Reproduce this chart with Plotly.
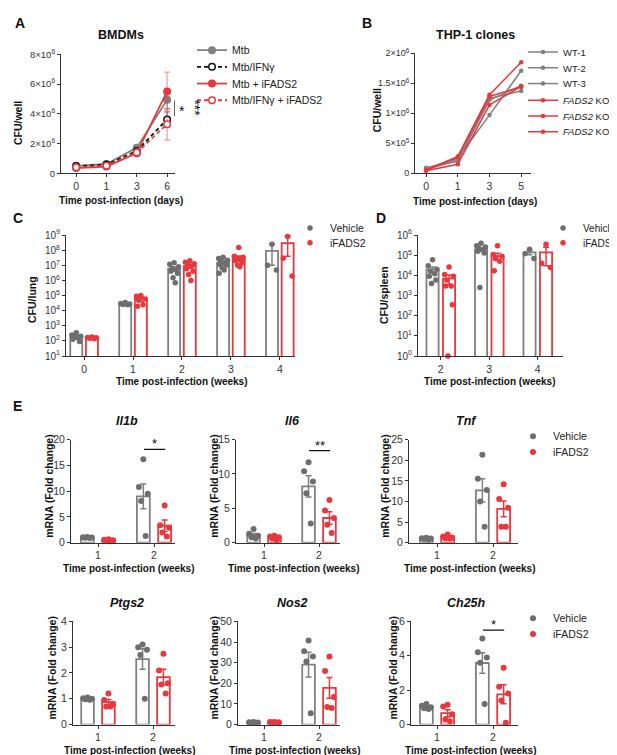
import numpy as np
import plotly.graph_objects as go

W, H = 617, 755
GREY = "#808080"
DGREY = "#6e6e6e"
RED = "#e8383d"
FONT = "Liberation Sans, Arial, sans-serif"

# ---- Panel A: BMDMs (CFU/well) ----
a_days = ["0", "1", "3", "6"]
a_mtb = [0.50e6, 0.62e6, 1.72e6, 4.95e6]
a_mtb_err = [0.05e6, 0.05e6, 0.15e6, 0.6e6]
a_ifn = [0.48e6, 0.58e6, 1.50e6, 3.62e6]
a_ifn_err = [0.05e6, 0.05e6, 0.10e6, 0.5e6]
a_mtb_i = [0.35e6, 0.45e6, 1.35e6, 5.50e6]
a_mtb_i_err = [0.05e6, 0.05e6, 0.10e6, 1.3e6]
a_ifn_i = [0.40e6, 0.50e6, 1.40e6, 3.30e6]
a_ifn_i_err = [0.05e6, 0.05e6, 0.10e6, 1.05e6]

# ---- Panel B: THP-1 clones ----
b_days = ["0", "1", "3", "5"]
b_clones = ["WT-1", "WT-2", "WT-3", "<i>FADS2</i> KO-1", "<i>FADS2</i> KO-2", "<i>FADS2</i> KO-3"]
b_values = [
    [0.08e6, 0.25e6, 0.97e6, 1.71e6],
    [0.09e6, 0.20e6, 1.22e6, 1.46e6],
    [0.06e6, 0.22e6, 1.25e6, 1.37e6],
    [0.05e6, 0.28e6, 1.31e6, 1.85e6],
    [0.04e6, 0.15e6, 1.14e6, 1.45e6],
    [0.05e6, 0.27e6, 1.28e6, 1.44e6],
]

# ---- Panel C: CFU/lung ----
c_weeks = ["0", "1", "2", "3", "4"]
c_veh_mean = [170, 3.0e4, 6.0e6, 1.5e7, 9.0e7]
c_veh_up = [40, 2e3, 2e6, 3e6, 1.6e8]
c_veh_dn = [40, 2e3, 2e6, 3e6, 8e7]
c_red_mean = [155, 6.0e4, 9.0e6, 3.0e7, 3.0e8]
c_red_up = [10, 2e4, 2.5e6, 1.2e7, 5e8]
c_red_dn = [10, 2e4, 2.5e6, 1.2e7, 2.6e8]
c_veh_pts = [
    [350, 250, 200, 180, 160, 130, 90],
    [3.5e4, 3.0e4, 2.8e4, 2.6e4, 2.5e4],
    [1.5e7, 1.2e7, 8e6, 6e6, 5e6, 4e6, 3e6, 1.5e6, 7e5],
    [3.5e7, 2.8e7, 2.2e7, 1.8e7, 1.5e7, 1.2e7, 1e7, 7e6, 5e6, 3e6],
    [2.5e8, 1.0e7, 5e6],
]
c_red_pts = [
    [180, 170, 160, 150, 140],
    [1.0e5, 9e4, 6e4, 5e4, 2.5e4, 2e4],
    [2e7, 1.6e7, 1.3e7, 1.1e7, 9e6, 6e6, 4e6, 2.5e6, 1e6],
    [1.5e8, 4e7, 3.5e7, 3e7, 2.5e7, 2e7, 1.5e7, 1e7, 8e6],
    [8e8, 3e7, 2e6],
]

# ---- Panel D: CFU/spleen ----
d_weeks = ["2", "3", "4"]
d_veh_mean = [2.0e4, 2.0e5, 1.4e5]
d_veh_sem = [6e3, 4e4, 3.5e4]
d_red_mean = [7.0e3, 9.0e4, 1.4e5]
d_red_sem = [3.5e3, 3.5e4, 1.1e5]
d_veh_pts = [
    [6e4, 3e4, 2e4, 1.6e4, 1.2e4, 9e3, 6e3, 4e3],
    [4e5, 3e5, 2.6e5, 2.2e5, 1.9e5, 1.6e5, 1.3e5, 2.5e3],
    [2e5, 1.2e5, 7e4],
]
d_red_pts = [
    [2.6e4, 1.1e4, 9e3, 6e3, 3e3, 3e3, 3.5e2, 1],
    [3e5, 1.1e5, 9e4, 7e4, 5e4, 1.7e4],
    [3.5e5, 4e4, 2.5e4],
]

# ---- Panel E: mRNA fold change ----
e_weeks = ["1", "2"]
e_genes = ["Il1b", "Il6", "Tnf", "Ptgs2", "Nos2", "Ch25h"]
e_veh_mean = [[1.0, 9.0], [1.1, 8.2], [1.0, 12.7], [1.0, 2.54], [1.0, 29.0], [1.0, 3.58]]
e_veh_sem = [[0.04, 2.4], [0.25, 1.55], [0.07, 2.8], [0.02, 0.4], [0.1, 6.0], [0.05, 0.6]]
e_red_mean = [[0.5, 3.3], [0.75, 3.6], [1.4, 8.2], [0.87, 1.84], [1.1, 17.8], [0.66, 1.76]]
e_red_sem = [[0.07, 1.1], [0.1, 0.9], [0.18, 1.9], [0.1, 0.3], [0.07, 5.0], [0.2, 0.55]]
e_veh_pts = [
    [[1.1, 1.05, 1.0, 0.95, 0.9], [16.2, 10.8, 9.5, 8.1, 1.3]],
    [[2.0, 1.3, 1.0, 0.8, 0.6], [11.7, 10.4, 8.9, 7.2, 2.8]],
    [[1.2, 1.1, 1.0, 0.9, 0.8], [21.3, 15.5, 12.8, 10.0, 3.9]],
    [[1.05, 1.02, 1.0, 0.98, 0.96], [3.1, 3.0, 2.9, 2.7, 1.0]],
    [[1.3, 1.1, 1.0, 0.9, 0.8], [40.7, 35.5, 33.0, 30.5, 5.5]],
    [[1.2, 1.1, 1.0, 0.95, 0.9], [5.0, 4.2, 3.9, 3.6, 1.2]],
]
e_red_pts = [
    [[0.7, 0.6, 0.5, 0.4, 0.3], [7.2, 3.4, 2.9, 2.0, 1.2]],
    [[1.0, 0.9, 0.8, 0.6, 0.4], [6.2, 4.7, 3.6, 2.6, 1.4]],
    [[2.0, 1.5, 1.3, 1.1, 1.0], [14.2, 10.6, 8.5, 3.9, 3.9]],
    [[1.2, 0.95, 0.8, 0.7, 0.7], [2.75, 2.1, 1.6, 1.55, 1.2]],
    [[1.3, 1.2, 1.1, 1.0, 0.9], [33, 26, 13.3, 8.5, 8]],
    [[1.15, 1.05, 0.6, 0.3, 0.2], [3.3, 2.2, 1.8, 1.4, 0.1]],
]
e_ymax = [20, 15, 25, 4, 50, 6]
e_ydtick = [5, 5, 5, 1, 10, 2]

fig = go.Figure()
annotations = []
shapes = []
legends = {}


def px2paper_x(v):
    return v / W


def px2paper_y(v):
    return 1 - v / H


def new_legend(x, yc, size=10.5):
    # one legend per entry so the row spacing can follow the reference
    key = "legend" if not legends else "legend%d" % (len(legends) + 1)
    legends[key] = dict(x=px2paper_x(x), y=px2paper_y(yc - 25), xanchor="left", yanchor="top",
                        xref="paper", yref="paper", bgcolor="rgba(0,0,0,0)",
                        font=dict(size=size, color="#222", family=FONT), itemwidth=30)
    return key


def axis_style(size=10.5):
    return dict(showline=True, linecolor="#333", linewidth=1, ticks="outside", ticklen=3,
                tickwidth=1, tickcolor="#333", showgrid=False, zeroline=False,
                tickfont=dict(size=size, color="#333", family=FONT), fixedrange=True)


def add_axes(i, xpx, ypx, xrange, yrange, xtickvals, xticktext, ytickvals, yticktext,
             ylog=False, ysize=10.5):
    sx = "" if i == 1 else str(i)
    xa = axis_style()
    xa.update(domain=[px2paper_x(xpx[0]), px2paper_x(xpx[1])], range=xrange, anchor="y" + sx,
              tickmode="array", tickvals=xtickvals, ticktext=xticktext)
    ya = axis_style(ysize)
    ya.update(domain=[px2paper_y(ypx[1]), px2paper_y(ypx[0])], range=yrange, anchor="x" + sx,
              tickmode="array", tickvals=ytickvals, ticktext=yticktext,
              type="log" if ylog else "linear")
    fig.update_layout(**{"xaxis" + sx: xa, "yaxis" + sx: ya})
    return "x" + sx, "y" + sx


def spread(n, w):
    pattern = np.array([0, -1, 1, -0.5, 0.5, -0.75, 0.75, -0.25, 0.25, -0.9, 0.9, 0.1])
    return pattern[:n] * w


def text(x, y, s, size=10, bold=True, angle=0, xanchor="center", yanchor="middle", color="#111"):
    annotations.append(dict(x=px2paper_x(x), y=px2paper_y(y), xref="paper", yref="paper",
                            text=("<b>%s</b>" % s) if bold else s, showarrow=False,
                            font=dict(size=size, color=color, family=FONT), textangle=angle,
                            xanchor=xanchor, yanchor=yanchor))


def bar_panel(xa, ya, n, veh_mean, veh_up, veh_dn, red_mean, red_up, red_dn, veh_pts, red_pts,
              off, bw, jit, leg=None, msize=5.5, legsize=10.5):
    pos = np.arange(n)
    fig.add_trace(go.Bar(x=pos - off, y=veh_mean, width=bw, xaxis=xa, yaxis=ya,
                         marker=dict(color="rgba(255,255,255,0)", line=dict(color=GREY, width=1.8)),
                         error_y=dict(type="data", array=veh_up, arrayminus=veh_dn, color=GREY,
                                      thickness=1.5, width=3), showlegend=False))
    fig.add_trace(go.Bar(x=pos + off, y=red_mean, width=bw, xaxis=xa, yaxis=ya,
                         marker=dict(color="rgba(255,255,255,0)", line=dict(color=RED, width=1.8)),
                         error_y=dict(type="data", array=red_up, arrayminus=red_dn, color=RED,
                                      thickness=1.5, width=3), showlegend=False))
    for j, (pts, sgn, col, name) in enumerate([(veh_pts, -1, DGREY, "Vehicle"),
                                               (red_pts, 1, RED, "iFADS2")]):
        xs, ys = [], []
        for k, p in enumerate(pts):
            xs.extend(list(k + sgn * off + spread(len(p), jit)))
            ys.extend(p)
        tr = go.Scatter(x=xs, y=ys, mode="markers", xaxis=xa, yaxis=ya, name=name,
                        marker=dict(color=col, size=msize), cliponaxis=False, showlegend=False)
        if leg is not None:
            tr.update(showlegend=True, legend=new_legend(leg[0], leg[1][j], legsize))
        fig.add_trace(tr)


# ----- Panel A -----
xa, ya = add_axes(1, (53, 167), (40, 161), [-0.5, 3.26], [0, 8e6],
                  list(range(4)), a_days, [0, 2e6, 4e6, 6e6, 8e6],
                  ["0", "2×10<sup>6</sup>", "4×10<sup>6</sup>", "6×10<sup>6</sup>", "8×10<sup>6</sup>"],
                  ysize=9.5)
a_series = [
    ("Mtb", a_mtb, a_mtb_err, GREY, "solid", GREY, "rgba(128,128,128,0.7)"),
    ("Mtb/IFNγ", a_ifn, a_ifn_err, "#111", "4px,3px", "white", "rgba(0,0,0,0.5)"),
    ("Mtb + iFADS2", a_mtb_i, a_mtb_i_err, RED, "solid", RED, "rgba(232,56,61,0.5)"),
    ("Mtb/IFNγ + iFADS2", a_ifn_i, a_ifn_i_err, RED, "4px,3px", "white", "rgba(232,56,61,0.5)"),
]
a_rows = [46, 63, 80, 97]
for (name, vals, err, col, dash, fill, ecol), yc in zip(a_series, a_rows):
    fig.add_trace(go.Scatter(x=list(range(4)), y=vals, name=name, mode="lines+markers",
                             xaxis=xa, yaxis=ya, legend=new_legend(184, yc),
                             line=dict(color=col, width=1.8, dash=dash),
                             marker=dict(color=fill, size=6.5, line=dict(color=col, width=1.5)),
                             error_y=dict(type="data", array=err, color=ecol, thickness=1.2, width=3)))
# significance bars (day 6)
shapes.append(dict(type="line", xref=xa, yref=ya, x0=3.26, x1=3.26, y0=3.85e6, y1=4.9e6,
                   line=dict(color="#111", width=1.3)))
shapes.append(dict(type="line", xref=xa, yref=ya, x0=3.62, x1=3.62, y0=3.3e6, y1=5.55e6,
                   line=dict(color="#111", width=1.3)))
text(173.5, 98, "*", size=14, bold=False)
text(187, 94, "***", size=14, bold=False, angle=90)

# ----- Panel B -----
xa, ya = add_axes(2, (407, 523), (39, 161), [-0.35, 3.31], [0, 2e6],
                  list(range(4)), b_days, [0, 0.5e6, 1e6, 1.5e6, 2e6],
                  ["0", "5×10<sup>5</sup>", "1×10<sup>6</sup>", "1.5×10<sup>6</sup>", "2×10<sup>6</sup>"],
                  ysize=9)
b_rows = [48, 64, 80, 97, 113, 129]
for k, (name, vals) in enumerate(zip(b_clones, b_values)):
    col = GREY if k < 3 else RED
    fig.add_trace(go.Scatter(x=list(range(4)), y=vals, name=name, mode="lines+markers",
                             xaxis=xa, yaxis=ya, legend=new_legend(515, b_rows[k], 9.5),
                             line=dict(color=col, width=1.5), marker=dict(color=col, size=4.5)))

# ----- Panel C -----
xa, ya = add_axes(3, (58, 287), (224, 347), [-0.37, 4.31], [1, 9],
                  list(range(5)), c_weeks, [10 ** k for k in range(1, 10)],
                  ["10<sup>%d</sup>" % k for k in range(1, 10)], ylog=True, ysize=10)
bar_panel(xa, ya, 5, c_veh_mean, c_veh_up, c_veh_dn, c_red_mean, c_red_up, c_red_dn,
          c_veh_pts, c_red_pts, 0.16, 0.245, 0.09, leg=(282, (227, 242)))

# ----- Panel D -----
xa, ya = add_axes(4, (410, 555), (224, 347), [-0.47, 2.52], [0, 6],
                  list(range(3)), d_weeks, [10 ** k for k in range(0, 7)],
                  ["10<sup>%d</sup>" % k for k in range(0, 7)], ylog=True, ysize=10)
bar_panel(xa, ya, 3, d_veh_mean, d_veh_sem, d_veh_sem, d_red_mean, d_red_sem, d_red_sem,
          d_veh_pts, d_red_pts, 0.17, 0.25, 0.09, leg=(535, (227, 242)), legsize=10)

# ----- Panel E -----
e_x = [(63, 167), (228, 332), (401, 510), (65, 167), (230, 332), (403, 510)]
e_cat = [(90, 146), (256, 311), (429, 485), (90, 145), (256, 311), (429, 485)]
e_y = [(432, 537)] * 3 + [(617, 722)] * 3
e_leg = [None, None, (505, (439, 455)), None, None, (505, (624, 640))]
for g in range(6):
    sp = e_cat[g][1] - e_cat[g][0]
    xr = [(e_x[g][0] - e_cat[g][0]) / sp, (e_x[g][1] - e_cat[g][0]) / sp]
    yt = list(np.arange(0, e_ymax[g] + 1e-9, e_ydtick[g]))
    xa, ya = add_axes(5 + g, e_x[g], e_y[g], xr, [0, e_ymax[g]], [0, 1], e_weeks,
                      yt, ["%g" % v for v in yt])
    bar_panel(xa, ya, 2, e_veh_mean[g], e_veh_sem[g], e_veh_sem[g], e_red_mean[g], e_red_sem[g],
              e_red_sem[g], e_veh_pts[g], e_red_pts[g], 0.19, 0.23, 0.08, leg=e_leg[g], msize=6)
    cx = (e_x[g][0] + e_x[g][1]) / 2
    text((e_cat[g][0] + e_cat[g][1]) / 2 + 1, e_y[g][0] - 19, "<i>%s</i>" % e_genes[g], size=12.5)
    text(cx + 6, e_y[g][1] + 26, "Time post-infection (weeks)", size=10)

# significance lines in E
for g, y, stars in [(0, 18.1, "*"), (1, 13.4, "**"), (5, 5.49, "*")]:
    sx = str(5 + g)
    shapes.append(dict(type="line", xref="x" + sx, yref="y" + sx, x0=0.82, x1=1.2, y0=y, y1=y,
                       line=dict(color="#111", width=1.3)))
    annotations.append(dict(x=1.01, y=y, xref="x" + sx, yref="y" + sx, text=stars, showarrow=False,
                            yanchor="bottom", yshift=-4, font=dict(size=13, color="#111", family=FONT)))

# y titles for E
for x, y in [(41, 480), (206, 480), (377, 480), (44, 665), (206, 665), (385, 665)]:
    text(x, y, "mRNA (Fold change)", size=10.5, angle=-90)

# panel text
text(5, 8, "A", size=14, xanchor="left")
text(352, 8, "B", size=14, xanchor="left")
text(3, 207, "C", size=14, xanchor="left")
text(366, 207, "D", size=14, xanchor="left")
text(3, 398, "E", size=14, xanchor="left")
text(113, 20, "BMDMs", size=12.5)
text(467, 20, "THP-1 clones", size=12.5)
text(113, 189, "Time post-infection (days)", size=10)
text(467, 190, "Time post-infection (days)", size=10)
text(174, 373, "Time post-infection (weeks)", size=10)
text(482, 373, "Time post-infection (weeks)", size=10)
text(10, 110, "CFU/well", size=10.5, angle=-90)
text(369, 97, "CFU/well", size=10.5, angle=-90)
text(24, 290, "CFU/lung", size=10.5, angle=-90)
text(376, 285, "CFU/spleen", size=10.5, angle=-90)

fig.update_layout(
    width=W, height=H, autosize=False,
    margin=dict(l=0, r=0, t=0, b=0),
    paper_bgcolor="white", plot_bgcolor="white",
    font=dict(family=FONT, color="#222"),
    barmode="overlay",
    annotations=annotations,
    shapes=shapes,
    **legends,
)

fig.write_html("out.html")
